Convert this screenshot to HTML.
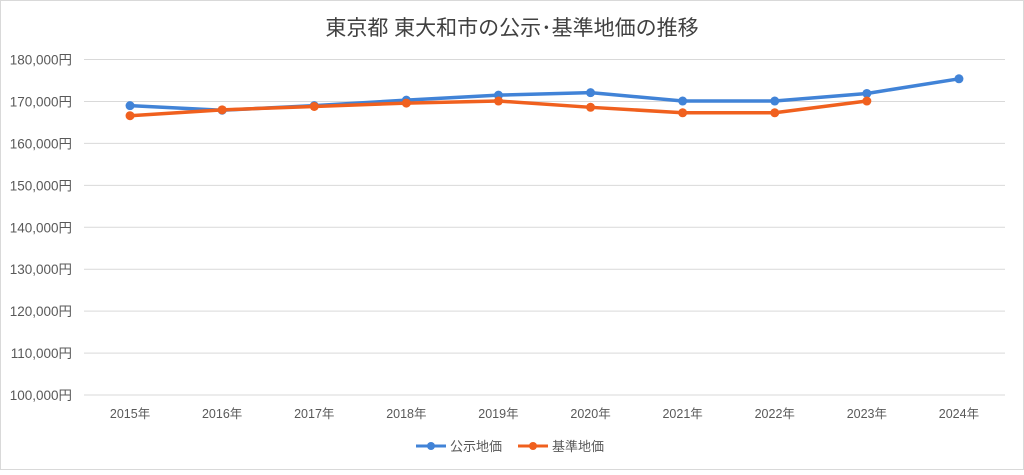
<!DOCTYPE html>
<html><head><meta charset="utf-8"><style>
body{margin:0;background:#fff;}
svg text{font-family:"Liberation Sans","Noto Sans CJK JP",sans-serif;}
</style></head><body>
<svg width="1024" height="470" xmlns="http://www.w3.org/2000/svg">
<rect x="0.5" y="0.5" width="1023" height="469" fill="#fff" stroke="#d9d9d9"/>
<text x="512" y="35" text-anchor="middle" font-size="21" fill="#404040">東京都 東大和市の公示･基準地価の推移</text>
<g id="grid"></g><g id="ylab"></g><g id="xlab"></g><g id="series"></g>
<g>
<line x1="416" y1="446" x2="446" y2="446" stroke="#4183d7" stroke-width="3"/><circle cx="431" cy="446" r="4" fill="#4183d7"/>
<text x="450" y="451" font-size="13" fill="#595959">公示地価</text>
<line x1="518" y1="446" x2="548" y2="446" stroke="#f0601e" stroke-width="3"/><circle cx="533" cy="446" r="4" fill="#f0601e"/>
<text x="552" y="451" font-size="13" fill="#595959">基準地価</text>
</g>
</svg>
<script>
const categories=["2015年","2016年","2017年","2018年","2019年","2020年","2021年","2022年","2023年","2024年"];
const kojiValues=[169000,167900,169000,170300,171500,172100,170100,170100,171900,175400];
const kijunValues=[166600,168000,168800,169600,170100,168600,167300,167300,170100,null];
const yTicks=[100000,110000,120000,130000,140000,150000,160000,170000,180000];
const ns="http://www.w3.org/2000/svg";
const L=84,R=1005,T=59.5,B=395;
const y=v=>B-(v-100000)/80000*(B-T);
const x=i=>L+(R-L)/categories.length*(i+0.5);
function mk(t,a,p){const e=document.createElementNS(ns,t);for(const k in a)e.setAttribute(k,a[k]);p.appendChild(e);return e;}
const g=document.getElementById('grid'),yl=document.getElementById('ylab'),xl=document.getElementById('xlab'),s=document.getElementById('series');
yTicks.forEach(v=>{
 const l=mk('line',{x1:L,x2:R,y1:y(v),y2:y(v),stroke:'#d9d9d9','stroke-width':1},g);
 
 
 const t=mk('text',{x:72,y:y(v)+5,'text-anchor':'end','font-size':13.5,fill:'#595959'},yl);
 t.textContent=v.toLocaleString('en-US')+'円';
 
 
});
categories.forEach((c,i)=>{
 const t=mk('text',{x:x(i),y:418,'text-anchor':'middle','font-size':12.5,fill:'#595959'},xl);
 t.textContent=c;
 
 
});
function draw(vals,col,name){
 const pts=vals.map((v,i)=>v==null?null:[x(i),y(v)]).filter(p=>p);
 const pl=mk('polyline',{points:pts.map(p=>p.join(',')).join(' '),fill:'none',stroke:col,'stroke-width':3.5,'stroke-linejoin':'round'},s);
 
 
 pts.forEach(p=>{const c=mk('circle',{cx:p[0],cy:p[1],r:4.5,fill:col},s);
 
 });
}
draw(kojiValues,'#4183d7','koji');
draw(kijunValues,'#f0601e','kijun');
</script>
</body></html>
